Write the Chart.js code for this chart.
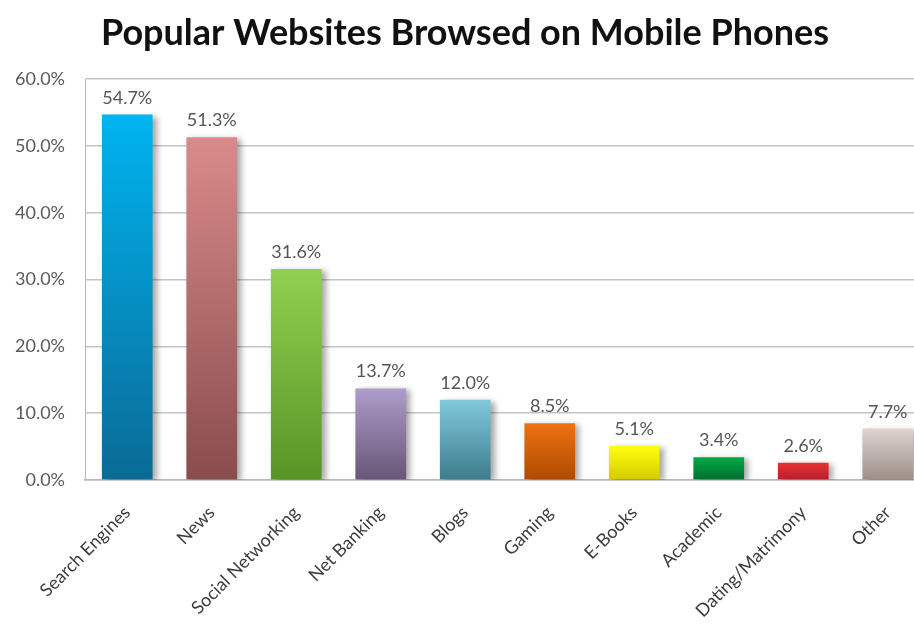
<!DOCTYPE html>
<html>
<head>
<meta charset="utf-8">
<title>Popular Websites Browsed on Mobile Phones</title>
<script src="https://cdn.jsdelivr.net/npm/chart.js@4/dist/chart.umd.min.js"></script>
<style>
  html, body { margin: 0; padding: 0; background: #fff; overflow: hidden; }
  #wrap { width: 914px; height: 626px; overflow: hidden; }
</style>
</head>
<body>
<div id="wrap"><canvas id="chart" width="930" height="626"></canvas></div>
<script>
const categories = ['Search Engines', 'News', 'Social Networking', 'Net Banking', 'Blogs',
                    'Gaming', 'E-Books', 'Academic', 'Dating/Matrimony', 'Other'];
const shares = [54.7, 51.3, 31.6, 13.7, 12.0, 8.5, 5.1, 3.4, 2.6, 7.7];
const yTicks = [0, 10, 20, 30, 40, 50, 60];

// top / bottom colour of each bar's vertical gradient
const barTop    = ['#00b4f0', '#d98b8b', '#92d050', '#ae9ccb', '#82c9dd', '#f07212', '#ffff10', '#00aa46', '#e83234', '#ddd5ce'];
const barBottom = ['#0a6a96', '#8a4c4c', '#589426', '#685676', '#3c7c8c', '#ae4a00', '#d6ca00', '#006e30', '#b61e28', '#9e8e88'];

const FONT = 'Lato, "Open Sans", sans-serif';

function barFill(c) {
  const chart = c.chart;
  const area = chart.chartArea;
  if (!area || c.type !== 'data') return barTop[c.dataIndex];
  const y = chart.scales.y;
  const g = chart.ctx.createLinearGradient(0, y.getPixelForValue(shares[c.dataIndex]), 0, y.getPixelForValue(0));
  g.addColorStop(0, barTop[c.dataIndex]);
  g.addColorStop(1, barBottom[c.dataIndex]);
  return g;
}

// soft shadow behind the bars
const barShadow = {
  id: 'barShadow',
  beforeDatasetsDraw(chart) {
    const ctx = chart.ctx;
    ctx.save();
    ctx.shadowColor = 'rgba(0,0,0,0.35)';
    ctx.shadowBlur = 6;
    ctx.shadowOffsetX = 4;
    ctx.shadowOffsetY = 2;
  },
  afterDatasetsDraw(chart) {
    chart.ctx.restore();
  }
};

// value printed above each bar
const valueLabels = {
  id: 'valueLabels',
  afterDatasetsDraw(chart) {
    const ctx = chart.ctx;
    ctx.save();
    ctx.font = '18px ' + FONT;
    ctx.fillStyle = '#555';
    ctx.textAlign = 'center';
    ctx.textBaseline = 'alphabetic';
    chart.getDatasetMeta(0).data.forEach((bar, i) => {
      ctx.fillText(shares[i].toFixed(1) + '%', bar.x, bar.y - 11);
    });
    ctx.restore();
  }
};

new Chart(document.getElementById('chart'), {
  type: 'bar',
  data: {
    labels: categories,
    datasets: [{
      data: shares,
      backgroundColor: barFill,
      borderWidth: 0,
      categoryPercentage: 1,
      barPercentage: 0.6
    }]
  },
  options: {
    responsive: false,
    animation: false,
    layout: { padding: 0 },
    plugins: {
      legend: { display: false },
      tooltip: { enabled: false },
      title: {
        display: true,
        text: 'Popular Websites Browsed on Mobile Phones',
        color: '#111',
        font: { family: FONT, size: 36, weight: 'bold' },
        padding: { top: 12, bottom: 24 }
      }
    },
    scales: {
      y: {
        min: 0,
        max: 60,
        afterBuildTicks(scale) { scale.ticks = yTicks.map(v => ({ value: v })); },
        afterFit(scale) { scale.width = 85; },
        grid: { color: '#c4c4c4', lineWidth: 1.5, drawTicks: false },
        border: { color: '#b8b8b8' },
        ticks: {
          padding: 20,
          color: '#5a5a5a',
          font: { family: FONT, size: 18 },
          callback: v => v.toFixed(1) + '%'
        }
      },
      x: {
        afterFit(scale) { scale.height = 146; },
        grid: { display: false },
        border: { color: '#b8b8b8', width: 1.5 },
        ticks: {
          minRotation: 45,
          maxRotation: 45,
          padding: 14,
          color: '#3c3c3c',
          font: { family: FONT, size: 18 }
        }
      }
    }
  },
  plugins: [barShadow, valueLabels]
});
</script>
</body>
</html>
